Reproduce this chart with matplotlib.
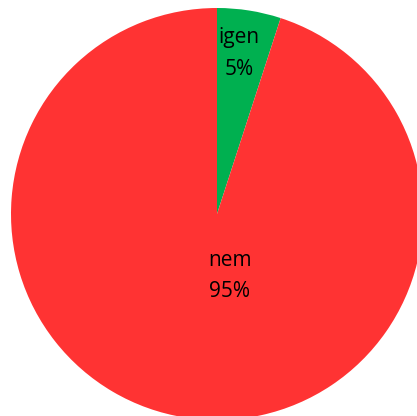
import matplotlib
matplotlib.use('Agg')
import matplotlib.pyplot as plt

labels = ['igen', 'nem']
values = [5, 95]
colors = ['#00B050', '#FF3333']

fig = plt.figure(figsize=(4.17, 4.16), dpi=100)
ax = fig.add_axes([11 / 417, -4 / 416, 412 / 417, 412 / 416])

ax.pie(values, colors=colors, startangle=90, counterclock=False, radius=1,
       wedgeprops=dict(linewidth=0))

# label positions (roughly where Excel put them)
label_pos = [(0.107, 0.78), (0.063, -0.30)]
total = sum(values)
for lab, v, (x, y) in zip(labels, values, label_pos):
    ax.text(x, y, '{}\n{}%'.format(lab, round(100 * v / total)),
            ha='center', va='center', fontsize=15, linespacing=1.65,
            family='Open Sans', color='black')

ax.set_xlim(-1, 1)
ax.set_ylim(-1, 1)
ax.set_aspect('equal')
ax.axis('off')

fig.savefig('out.png', dpi=100)
